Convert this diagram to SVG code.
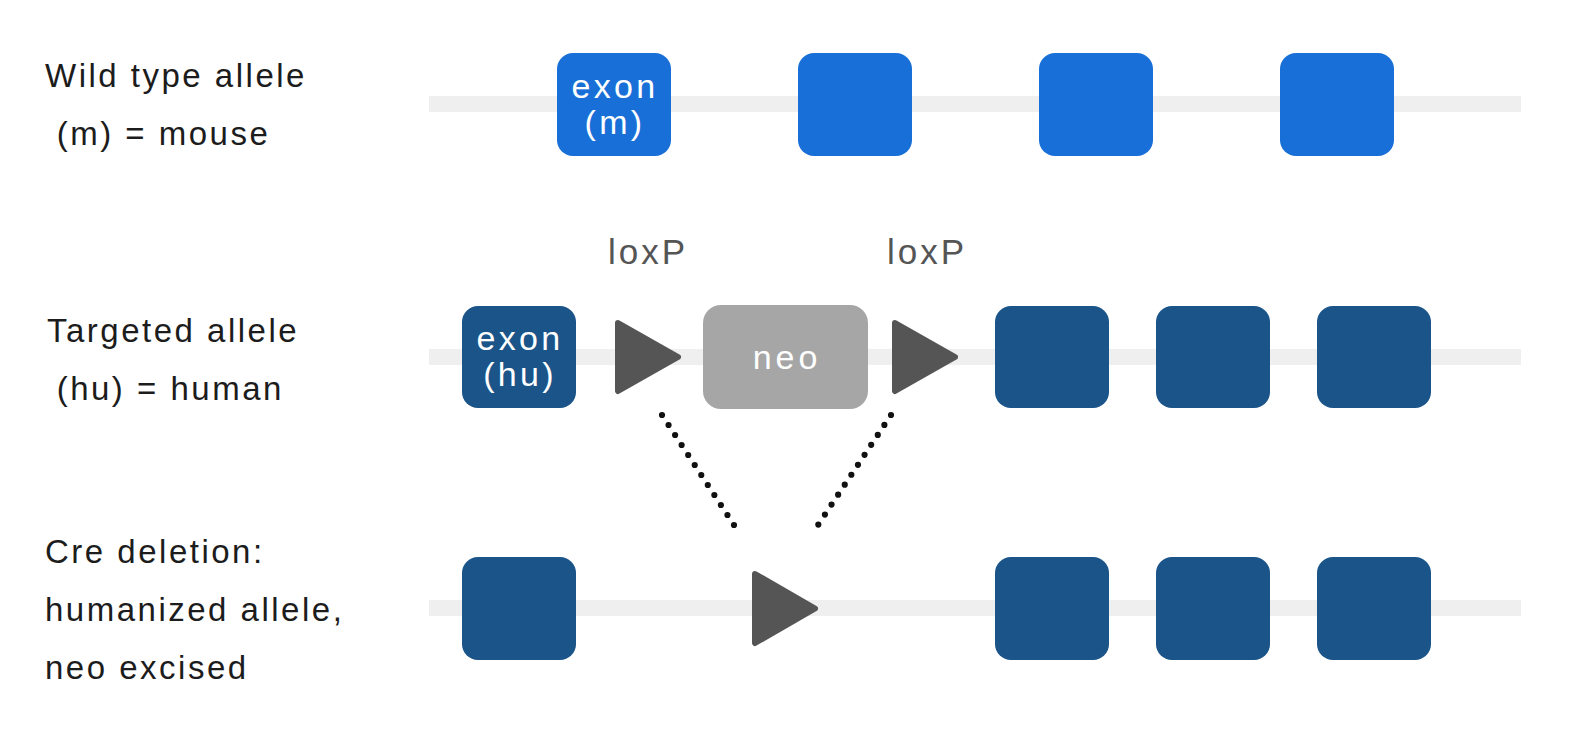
<svg xmlns="http://www.w3.org/2000/svg" width="1574" height="744" viewBox="0 0 1574 744">
<style>
.bg{fill:#ffffff}
.band{fill:#efefef}
.wt{fill:#186fd7}
.hu{fill:#1a5489}
.neo{fill:#a6a6a6}
.tri{fill:#555555;stroke:#555555;stroke-width:6;stroke-linejoin:round}
.lbl{font-family:"Liberation Sans",Arial,sans-serif;font-size:33px;fill:#1c1c1c;letter-spacing:2.5px}
.in{font-family:"Liberation Sans",Arial,sans-serif;font-size:34px;fill:#ffffff;letter-spacing:3.3px;text-anchor:middle}
.lox{font-family:"Liberation Sans",Arial,sans-serif;font-size:35px;fill:#555555;letter-spacing:3px;text-anchor:middle}
.dot{stroke:#111111;stroke-width:6.2;stroke-linecap:round;stroke-dasharray:0 11.95;fill:none}
</style>
<rect class="bg" x="0" y="0" width="1574" height="744"/>

<g id="labels">
  <text class="lbl" x="45" y="87">Wild type allele</text>
  <text class="lbl" x="45" y="145" xml:space="preserve"> (m) = mouse</text>
  <text class="lbl" x="47" y="342">Targeted allele</text>
  <text class="lbl" x="45" y="400" xml:space="preserve"> (hu) = human</text>
  <text class="lbl" x="45" y="563">Cre deletion:</text>
  <text class="lbl" x="45" y="621">humanized allele,</text>
  <text class="lbl" x="45" y="679">neo excised</text>
</g>

<g id="backbones">
  <rect class="band" x="429" y="96" width="1092" height="16"/>
  <rect class="band" x="429" y="349" width="1092" height="16"/>
  <rect class="band" x="429" y="600" width="1092" height="16"/>
</g>

<g id="row1">
  <g id="wt-exon1"><rect class="wt" x="557" y="53" width="114" height="103" rx="16"/>
    <text class="in"><tspan x="615" y="98">exon</tspan><tspan x="615" y="134">(m)</tspan></text></g>
  <g id="wt-exon2"><rect class="wt" x="798" y="53" width="114" height="103" rx="16"/></g>
  <g id="wt-exon3"><rect class="wt" x="1039" y="53" width="114" height="103" rx="16"/></g>
  <g id="wt-exon4"><rect class="wt" x="1280" y="53" width="114" height="103" rx="16"/></g>
</g>

<g id="row2">
  <g id="tg-exon-hu"><rect class="hu" x="462" y="306" width="114" height="102" rx="16"/>
    <text class="in"><tspan x="520" y="350">exon</tspan><tspan x="520" y="386">(hu)</tspan></text></g>
  <g id="loxp1"><text class="lox" x="648" y="264">loxP</text>
    <polygon class="tri" points="618,323 678,357 618,391"/></g>
  <g id="neo"><rect class="neo" x="703" y="305" width="165" height="104" rx="18"/>
    <text class="in" x="787" y="369" style="letter-spacing:4px">neo</text></g>
  <g id="loxp2"><text class="lox" x="927" y="264">loxP</text>
    <polygon class="tri" points="895,323 955,357 895,391"/></g>
  <g id="tg-exon2"><rect class="hu" x="995" y="306" width="114" height="102" rx="16"/></g>
  <g id="tg-exon3"><rect class="hu" x="1156" y="306" width="114" height="102" rx="16"/></g>
  <g id="tg-exon4"><rect class="hu" x="1317" y="306" width="114" height="102" rx="16"/></g>
</g>

<g id="row3">
  <g id="cd-exon1"><rect class="hu" x="462" y="557" width="114" height="103" rx="16"/></g>
  <g id="cd-loxp"><polygon class="tri" points="755,574 815,608.5 755,643"/></g>
  <g id="cd-exon2"><rect class="hu" x="995" y="557" width="114" height="103" rx="16"/></g>
  <g id="cd-exon3"><rect class="hu" x="1156" y="557" width="114" height="103" rx="16"/></g>
  <g id="cd-exon4"><rect class="hu" x="1317" y="557" width="114" height="103" rx="16"/></g>
</g>

<g id="connectors">
  <line class="dot" x1="662" y1="415" x2="734" y2="525"/>
  <line class="dot" x1="891" y1="415" x2="818" y2="525"/>
</g>
</svg>
